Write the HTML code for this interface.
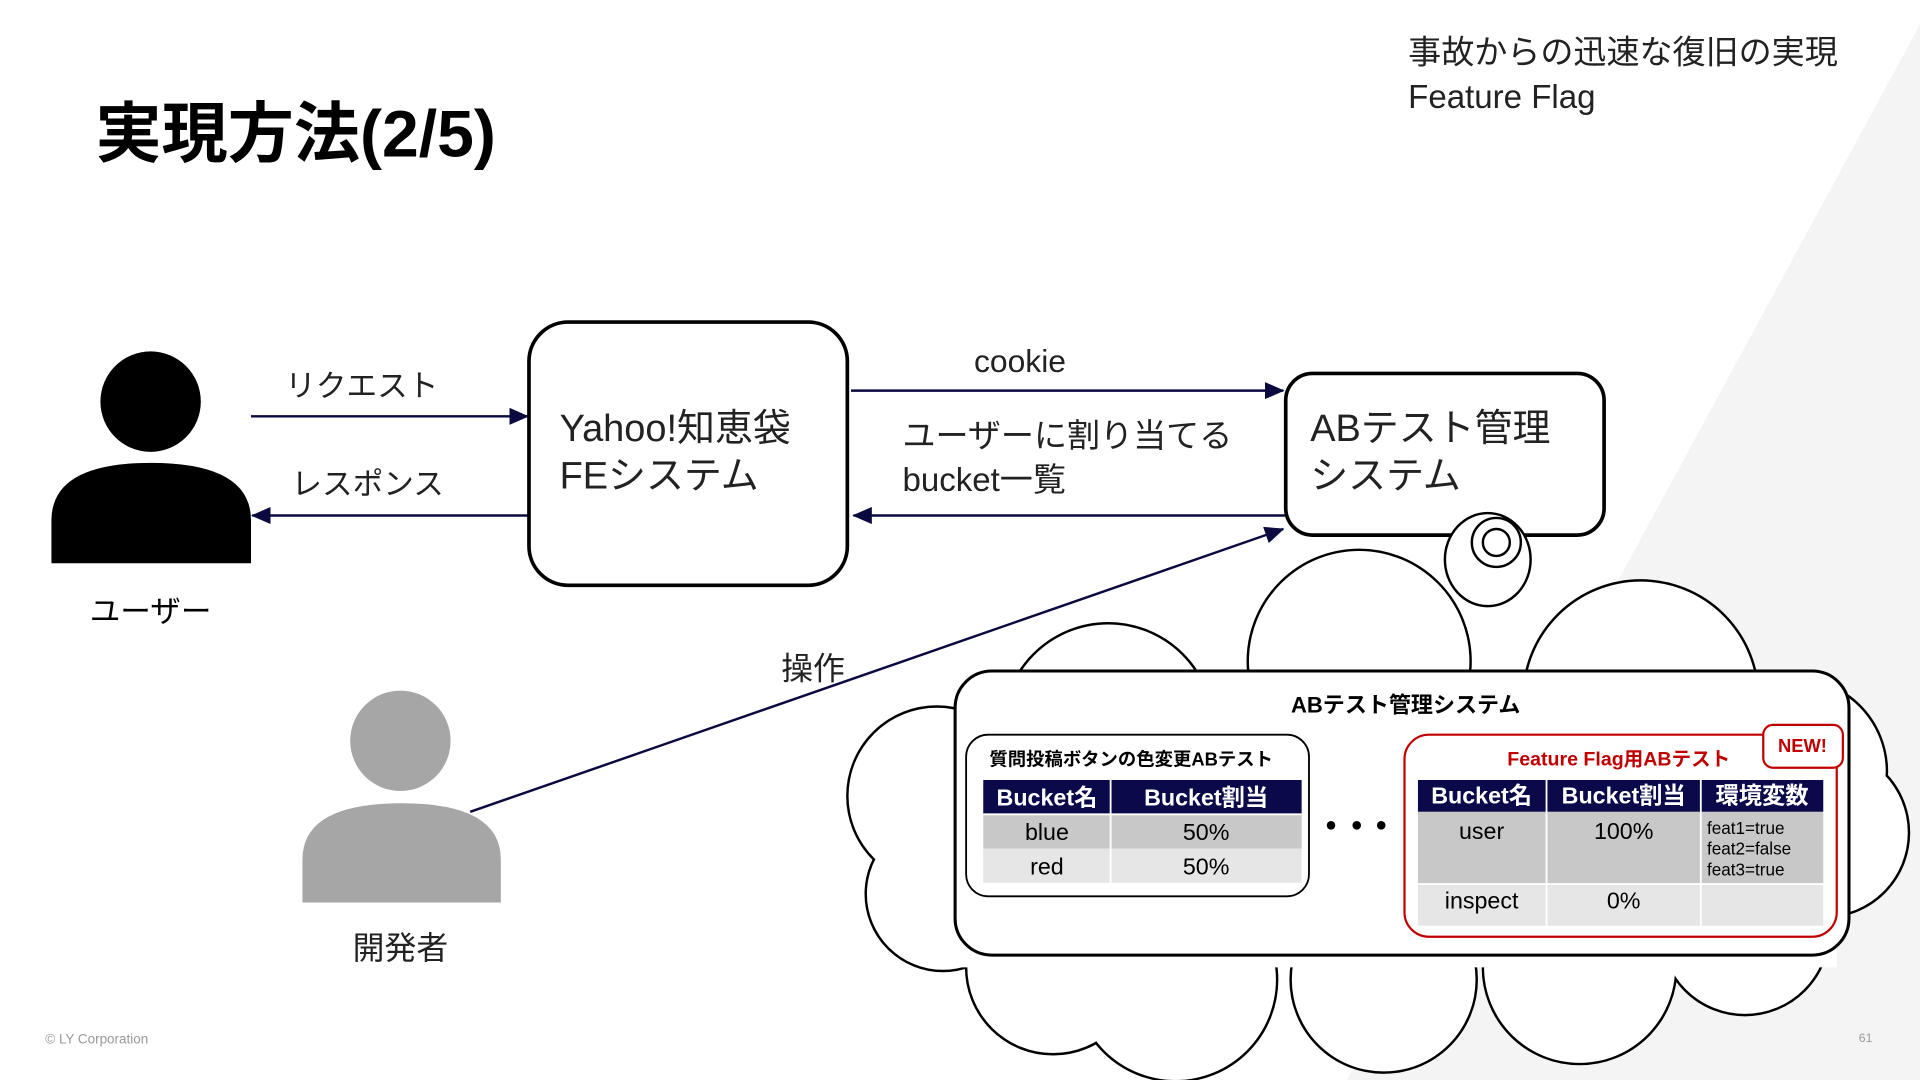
<!DOCTYPE html>
<html><head><meta charset="utf-8"><style>
html,body{margin:0;padding:0;background:#fff;width:1920px;height:1080px;overflow:hidden}
svg{display:block}
text{font-family:"Liberation Sans","Noto Sans CJK JP",sans-serif}
</style></head><body>
<svg width="1920" height="1080" viewBox="0 0 1568 882" xmlns="http://www.w3.org/2000/svg">
<defs>
<marker id="ah" markerWidth="16" markerHeight="14" refX="15" refY="7" orient="auto" markerUnits="userSpaceOnUse">
<path d="M0,0 L16,7 L0,14 z" fill="#0a0a40"/></marker>
</defs>
<rect width="1568" height="882" fill="#fff"/>
<polygon points="1568,20 1568,882 1100,882" fill="#f4f4f4"/>

<text x="78" y="128" font-size="54" font-weight="bold" fill="#000">実現方法(2/5)</text>
<text x="1150" y="52" font-size="27" fill="#222">事故からの迅速な復旧の実現</text>
<text x="1150" y="88" font-size="27" fill="#222">Feature Flag</text>

<circle cx="123" cy="328" r="41" fill="#000"/>
<path d="M42,460 L42,425 Q42,378 123,378 Q205,378 205,425 L205,460 z" fill="#000"/>
<text x="123" y="508" font-size="25" text-anchor="middle">ユーザー</text>

<circle cx="327" cy="605" r="41" fill="#a6a6a6"/>
<path d="M247,737 L247,702 Q247,656 328,656 Q409,656 409,702 L409,737 z" fill="#a6a6a6"/>
<text x="327" y="783" font-size="26" text-anchor="middle" fill="#222">開発者</text>

<g stroke="#0a0a40" stroke-width="2" fill="none">
<line x1="205" y1="340" x2="431" y2="340" marker-end="url(#ah)"/>
<line x1="432" y1="421" x2="206" y2="421" marker-end="url(#ah)"/>
<line x1="695" y1="319" x2="1048" y2="319" marker-end="url(#ah)"/>
<line x1="1050" y1="421" x2="697" y2="421" marker-end="url(#ah)"/>
<line x1="384" y1="663" x2="1048" y2="432" marker-end="url(#ah)"/>
</g>
<text x="233" y="324" font-size="25" fill="#222">リクエスト</text>
<text x="238" y="404" font-size="25" fill="#222">レスポンス</text>
<text x="833" y="304" font-size="26" text-anchor="middle" fill="#222">cookie</text>
<text x="737" y="365" font-size="27" fill="#222">ユーザーに割り当てる</text>
<text x="737" y="401" font-size="27" fill="#222">bucket一覧</text>
<text x="638" y="555" font-size="26" fill="#222">操作</text>

<rect x="432" y="263" width="260" height="215" rx="32" fill="#fff" stroke="#000" stroke-width="3"/>
<text x="457" y="360" font-size="31" fill="#222">Yahoo!知恵袋</text>
<text x="457" y="399" font-size="31" fill="#222">FEシステム</text>
<rect x="1050" y="305" width="260" height="132" rx="22" fill="#fff" stroke="#000" stroke-width="3"/>
<text x="1070" y="360" font-size="31" fill="#222">ABテスト管理</text>
<text x="1070" y="399" font-size="31" fill="#222">システム</text>

<g stroke="#000" stroke-width="2" fill="#fff">
<ellipse cx="1215" cy="457" rx="35" ry="38"/>
<circle cx="1222" cy="443" r="20"/>
<circle cx="1222" cy="443" r="11"/>
</g>
<g id="cl">
<circle cx="1110" cy="540" r="90"/>
<circle cx="1340" cy="570" r="95"/>
<circle cx="1465" cy="630" r="75"/>
<circle cx="1490" cy="680" r="68"/>
<circle cx="1425" cy="760" r="68"/>
<circle cx="1290" cy="790" r="78"/>
<circle cx="1130" cy="800" r="75"/>
<circle cx="960" cy="800" r="82"/>
<circle cx="860" cy="790" r="70"/>
<circle cx="770" cy="730" r="62"/>
<circle cx="765" cy="650" r="72"/>
<circle cx="905" cy="595" r="85"/>
</g>
<use href="#cl" stroke="#000" stroke-width="4" fill="none"/>
<use href="#cl" fill="#fff"/>
<rect x="780" y="560" width="720" height="230" fill="#fff"/>

<rect x="780" y="548" width="730" height="232" rx="30" fill="#fff" stroke="#000" stroke-width="2.5"/>
<text x="1148" y="582" font-size="18" font-weight="bold" text-anchor="middle">ABテスト管理システム</text>

<rect x="789" y="600" width="280" height="132" rx="18" fill="#fff" stroke="#000" stroke-width="1.5"/>
<text x="808" y="625" font-size="15" font-weight="bold">質問投稿ボタンの色変更ABテスト</text>
<rect x="803" y="637" width="260" height="28" fill="#0a0a4a"/>
<rect x="803" y="665" width="260" height="28" fill="#c8c8c8"/>
<rect x="803" y="693" width="260" height="28" fill="#e6e6e6"/>
<line x1="907" y1="637" x2="907" y2="721" stroke="#fff" stroke-width="1.5"/>
<line x1="803" y1="665" x2="1063" y2="665" stroke="#fff" stroke-width="1.5"/>
<g font-size="19" text-anchor="middle">
<text x="855" y="658" fill="#fff" font-weight="bold">Bucket名</text>
<text x="985" y="658" fill="#fff" font-weight="bold">Bucket割当</text>
<text x="855" y="686">blue</text><text x="985" y="686">50%</text>
<text x="855" y="714">red</text><text x="985" y="714">50%</text>
</g>
<circle cx="1087" cy="674" r="3.5"/><circle cx="1108" cy="674" r="3.5"/><circle cx="1128" cy="674" r="3.5"/>

<rect x="1147" y="600" width="353" height="165" rx="20" fill="#fff" stroke="#c00000" stroke-width="1.8"/>
<text x="1322" y="625" font-size="16" font-weight="bold" fill="#c00000" text-anchor="middle">Feature Flag用ABテスト</text>
<rect x="1440" y="592" width="65" height="35" rx="8" fill="#fff" stroke="#c00000" stroke-width="1.8"/>
<text x="1472" y="614" font-size="15" font-weight="bold" fill="#c00000" text-anchor="middle">NEW!</text>
<rect x="1158" y="637" width="331" height="26" fill="#0a0a4a"/>
<rect x="1158" y="663" width="331" height="59" fill="#c8c8c8"/>
<rect x="1158" y="722" width="331" height="34" fill="#e6e6e6"/>
<line x1="1263" y1="637" x2="1263" y2="756" stroke="#fff" stroke-width="1.5"/>
<line x1="1389" y1="637" x2="1389" y2="756" stroke="#fff" stroke-width="1.5"/>
<line x1="1158" y1="722" x2="1489" y2="722" stroke="#fff" stroke-width="1.5"/>
<g font-size="19" text-anchor="middle">
<text x="1210" y="656" fill="#fff" font-weight="bold">Bucket名</text>
<text x="1326" y="656" fill="#fff" font-weight="bold">Bucket割当</text>
<text x="1439" y="656" fill="#fff" font-weight="bold">環境変数</text>
<text x="1210" y="685">user</text><text x="1326" y="685">100%</text>
<text x="1210" y="742">inspect</text><text x="1326" y="742">0%</text>
</g>
<g font-size="14">
<text x="1394" y="681">feat1=true</text>
<text x="1394" y="698">feat2=false</text>
<text x="1394" y="715">feat3=true</text>
</g>

<text x="37" y="852" font-size="11" fill="#999">© LY Corporation</text>
<text x="1518" y="851" font-size="10" fill="#999">61</text>
</svg>
</body></html>
